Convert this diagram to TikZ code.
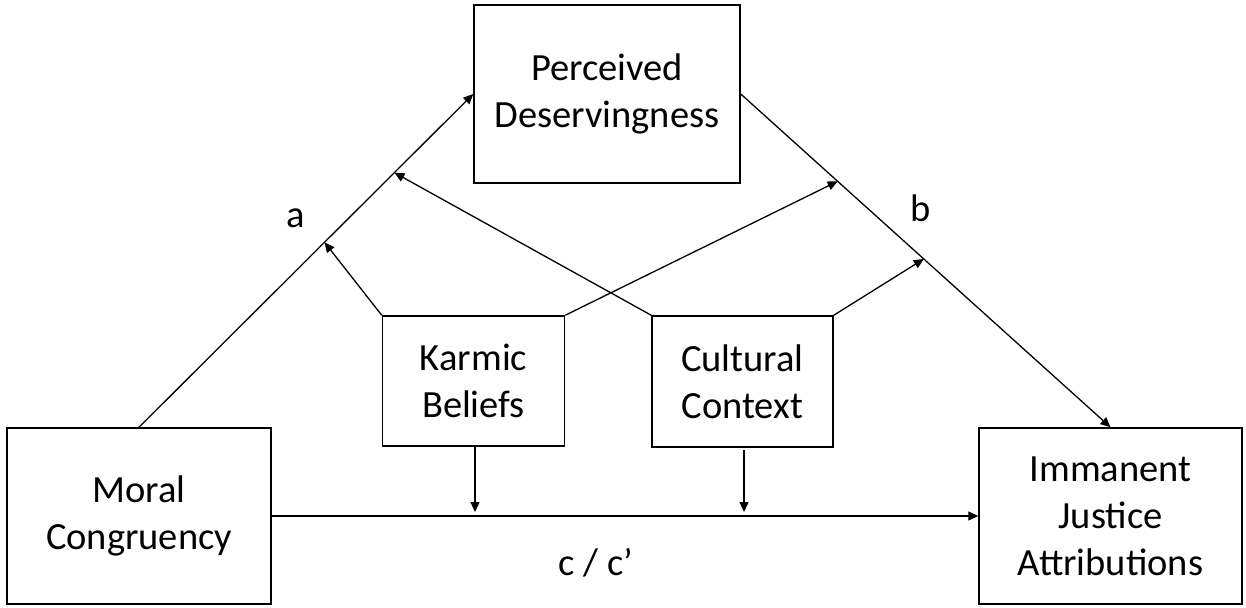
\documentclass[tikz,border=0pt]{standalone}
\usepackage{fontspec}
\setmainfont{Carlito}
\usetikzlibrary{arrows.meta,calc}
\begin{document}
\begin{tikzpicture}[x=1pt,y=-1pt,
  box/.style={draw, line width=1.5pt, inner sep=0pt, align=center,
    font=\fontsize{38.5}{47}\selectfont},
  conn/.style={line width=1.3pt, -{Triangle[length=10pt,width=9pt]}},
  lbl/.style={font=\fontsize{38.5}{47}\selectfont, inner sep=0pt, anchor=base}]
\useasboundingbox (0,0) rectangle (1246,607);
\node[box, minimum width=264pt, minimum height=176pt] (moral) at (139,516) {Moral\\Congruency};
\node[box, minimum width=266pt, minimum height=178pt] (perc) at (607,94) {Perceived\\Deservingness};
\node[box, minimum width=263pt, minimum height=176pt] (imm) at (1110.5,516) {Immanent\\Justice\\Attributions};
\node[box, minimum width=182pt, minimum height=130pt] (karmic) at (473.5,381) {Karmic\\Beliefs};
\node[box, minimum width=181pt, minimum height=131pt] (cult) at (742.5,381.5) {Cultural\\Context};
\coordinate (ta1) at ($(moral.north)!0.555!(perc.west)$);
\coordinate (ta2) at ($(moral.north)!0.764!(perc.west)$);
\coordinate (tb1) at ($(perc.east)!0.262!(imm.north)$);
\coordinate (tb2) at ($(perc.east)!0.495!(imm.north)$);
\coordinate (kb) at ($(karmic.south)+(1.5,0)$);
\coordinate (cb) at ($(cult.south)+(1.5,0)$);
\draw[conn] (moral.north) -- (perc.west);
\draw[conn] (perc.east) -- (imm.north);
\draw[conn] (moral.east) -- (imm.west);
\draw[conn] (karmic.north west) -- (ta1);
\draw[conn] (karmic.north east) -- (tb1);
\draw[conn] (cult.north west) -- (ta2);
\draw[conn] (cult.north east) -- (tb2);
\draw[conn, shorten >=4pt] (kb) -- (kb |- moral.east);
\draw[conn, shorten >=4pt, shorten <=2.5pt] (cb) -- (cb |- moral.east);
\node[lbl] (la) at (295.5,227) {a};
\node[lbl] (lb) at (921,221) {b};
\node[lbl] (lc) at (596,575) {c / c’};
\end{tikzpicture}
\end{document}
